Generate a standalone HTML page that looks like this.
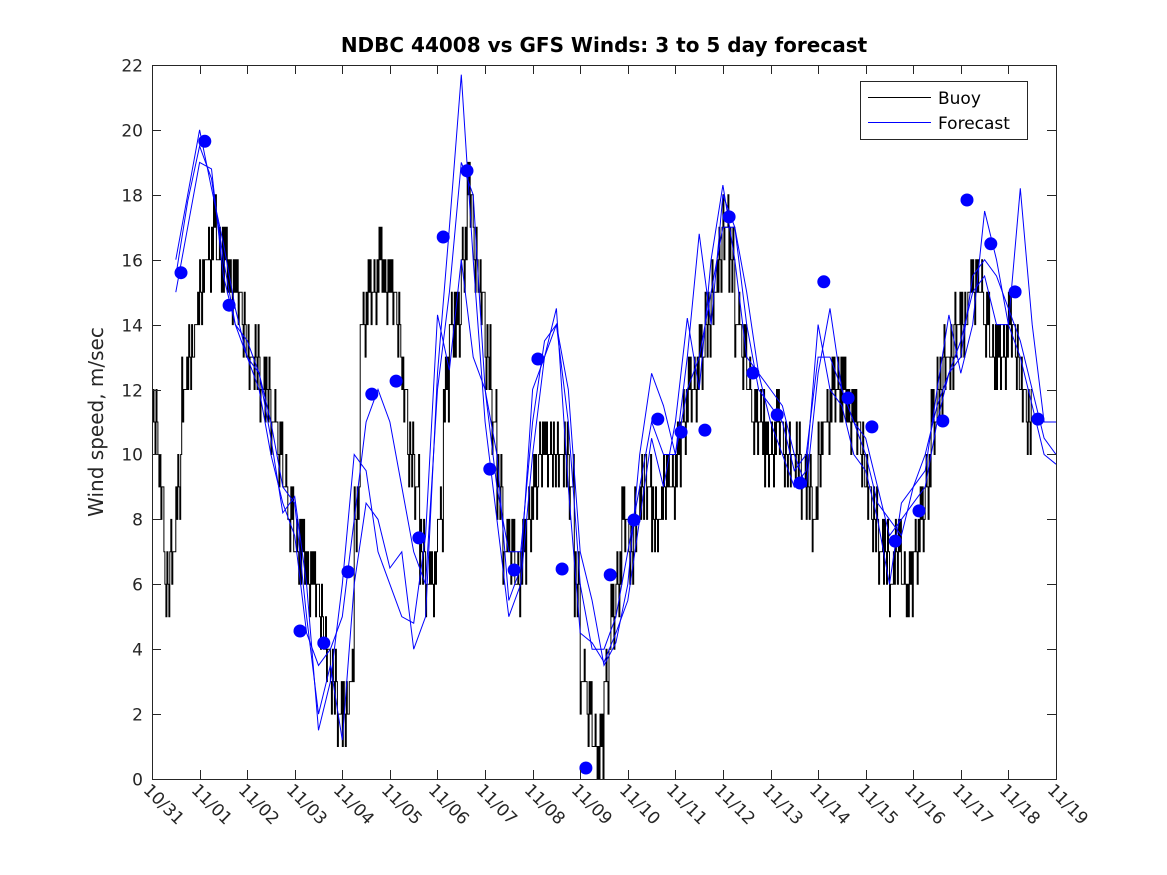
<!DOCTYPE html>
<html><head><meta charset="utf-8"><style>
html,body{margin:0;padding:0;background:#fff;}
svg{display:block;font-family:"DejaVu Sans","Liberation Sans",sans-serif;}
</style></head><body>
<svg id="chart" width="1167" height="875" viewBox="0 0 1167 875" xmlns="http://www.w3.org/2000/svg">
<rect x="0" y="0" width="1167" height="875" fill="#fff"/>
<text x="604" y="52" text-anchor="middle" font-size="20" font-weight="bold" fill="#000">NDBC 44008 vs GFS Winds: 3 to 5 day forecast</text>
<text transform="translate(103,422) rotate(-90)" text-anchor="middle" font-size="20" fill="#262626">Wind speed, m/sec</text>
<g id="plot"></g>
<g id="axes"></g>
<g>
<rect x="860.5" y="81.5" width="167" height="58" fill="#fff" stroke="#262626" stroke-width="1"/>
<line x1="868" y1="97.5" x2="931" y2="97.5" stroke="#000" stroke-width="1"/>
<text x="938" y="104" font-size="17" fill="#000">Buoy</text>
<line x1="868" y1="122.5" x2="931" y2="122.5" stroke="#0000ff" stroke-width="1"/>
<text x="938" y="129" font-size="17" fill="#000">Forecast</text>
</g>
</svg>
<script>
// Data
const dateLabels = ["10/31","11/01","11/02","11/03","11/04","11/05","11/06","11/07","11/08","11/09","11/10","11/11","11/12","11/13","11/14","11/15","11/16","11/17","11/18","11/19"];
const yTicks = [0,2,4,6,8,10,12,14,16,18,20,22];
// buoy: 3-hourly values starting day 0
const buoy = [
11,9,6,7,9,12,13,14,
15,16,17,16,16,15,15,14,
13,13,12,12,11,10,9,8,
7,7,6,6,5,4,3,2,
2,3,8,14,15,15,16,15,
15,14,12,10,9,7,6,6,
8,12,14,14,16,18,16,15,
13,11,9,7,7,6,7,8,
9,10,10,10,10,10,9,6,
3,2,1,1,3,5,6,8,
7,8,9,9,8,8,9,9,
10,11,12,12,13,14,15,16,
17,16,14,13,12,11,11,10,
10,11,10,10,10,9,9,8,
10,11,12,12,12,11,11,10,
9,8,7,7,6,7,6,6,
7,8,9,11,12,13,13,14,
14,15,15,15,14,13,13,13,
14,13,12,11
];
// buoy short-term fluctuation pattern (per sub-sample)
const buoyFlicker = [0,1,0,-1,1,0,-1,1,0,1,-1,0,0];
// forecast tracks: 6-hourly values starting day 0.5
const fcStart = 0.5;
const fc1 = [15.5,17.8,19.5,18.5,16,14,13,12,10,8.5,7.5,4.5,3.5,4,5,8,11,12,11,9,7,6,12,15,19,18,12,9,7,7,11,13.5,14,11,6,4,4,5,7,9,11,10,10,12,13,15,17,17,14,12,11.5,11,9.5,10,13,13,12,11,10.5,9,7.5,8,8.5,9,11,12.5,13,15.5,16,15.5,14.5,13.5,12,10.5,10];
const fc2 = [16,18,20,18.2,16.5,14.5,13,12.5,11,9,8.5,5,2,3.5,1.2,6,8.5,8,6.5,7,4,5,12.5,17,21.7,16,11,8,5,6,10,13,14.5,9,4.5,4.2,3.6,4.5,5.5,8,10.5,9,11,14.2,12,16,18.3,16,13,12.5,11,10,9,9.5,14,12,11.5,10,9.5,8,6,8.5,9,10,11.5,12.5,13.5,15,15.5,14,14,13,11.5,10,9.7];
const fc3 = [15,17,19,18.8,15.5,14,13.5,12.5,10.5,8.2,8.7,6,1.5,3,6,10,9.5,7,6,5,4.8,7.5,14.3,12.6,16,13,12,10,5.5,6.5,12,13,14,12,7,5.5,3.5,4.2,6,10,12.5,11.5,10,13,16.8,14,18,17,15,12.5,12,11.5,10,9,12.5,14.5,12,11,10,8.5,8,7.5,9,9.5,12,14.3,12.5,14,17.5,16,14,18.2,14,11,11];
const dotDays = [0.61,1.11,1.62,3.11,3.61,4.12,4.62,5.13,5.61,6.12,6.62,7.10,7.61,8.11,8.62,9.12,9.63,10.13,10.63,11.12,11.62,12.13,12.63,13.14,13.62,14.12,14.63,15.13,15.62,16.12,16.62,17.13,17.63,18.14,18.62];
const dotValues = [15.6,19.65,14.6,4.56,4.19,6.38,11.86,12.26,7.43,16.7,18.74,9.55,6.44,12.94,6.47,0.34,6.29,7.98,11.09,10.69,10.75,17.32,12.51,11.22,9.12,15.32,11.74,10.85,7.33,8.26,11.03,17.84,16.49,15.01,11.09];

// Axis functions
const X0=152, X1=1056, Y0=779, Y1=65;
const xs = d => X0 + d*(X1-X0)/19;
const ys = v => Y0 - v*(Y0-Y1)/22;
const NS="http://www.w3.org/2000/svg";
const plot=document.getElementById('plot');
const axes=document.getElementById('axes');
function mk(tag,attrs,parent){const e=document.createElementNS(NS,tag);for(const k in attrs)e.setAttribute(k,attrs[k]);parent.appendChild(e);return e;}

const defs=mk('defs',{},plot);
const cp=mk('clipPath',{id:'clip'},defs);
mk('rect',{x:X0,y:Y1,width:X1-X0,height:Y0-Y1},cp);
const g=mk('g',{'clip-path':'url(#clip)'},plot);

// buoy: half-hour sub-samples (6 per 3-hour block)
let d='';
const SUB=6;
let k=0;
for(let i=0;i<buoy.length;i++){
  for(let h=0;h<SUB;h++){
    const t=(i*3+h*3/SUB)/24;
    const v=Math.max(0,buoy[i]+buoyFlicker[(k+i)%buoyFlicker.length]);
    k++;
    const x=xs(t), x2=xs(t+3/SUB/24), y=ys(v);
    d+=(d?'L':'M')+x.toFixed(1)+','+y.toFixed(1)+'L'+x2.toFixed(1)+','+y.toFixed(1);
  }
}
const bl=mk('path',{d:d,fill:'none',stroke:'#000','stroke-width':1},g);



function fcLine(start,arr,name){
  const p=arr.map((v,i)=>(i?'L':'M')+xs(start+i*0.25).toFixed(1)+','+ys(v).toFixed(1)).join('');
  const e=mk('path',{d:p,fill:'none',stroke:'#0000ff','stroke-width':1},g);
  
  
}
fcLine(fcStart,fc1,'forecast-line-1');
fcLine(fcStart,fc2,'forecast-line-2');
fcLine(fcStart,fc3,'forecast-line-3');

dotDays.forEach((dd,i)=>{
  const c=mk('circle',{cx:xs(dd).toFixed(1),cy:ys(dotValues[i]).toFixed(1),r:6.5,fill:'#0000ff'},plot);
  
  
});

const box=mk('rect',{x:X0+0.5,y:Y1+0.5,width:X1-X0,height:Y0-Y1,fill:'none',stroke:'#262626','stroke-width':1},axes);


yTicks.forEach(v=>{
  const y=Math.round(ys(v))+0.5;
  mk('line',{x1:X0,y1:y,x2:X0+9,y2:y,stroke:'#262626'},axes);
  mk('line',{x1:X1-9,y1:y,x2:X1,y2:y,stroke:'#262626'},axes);
  const t=mk('text',{x:X0-9,y:y+6,'text-anchor':'end','font-size':17,fill:'#262626'},axes);
  t.textContent=v;
  
  
});
dateLabels.forEach((lab,i)=>{
  const x=Math.round(xs(i))+0.5;
  mk('line',{x1:x,y1:Y0,x2:x,y2:Y0-9,stroke:'#262626'},axes);
  mk('line',{x1:x,y1:Y1,x2:x,y2:Y1+9,stroke:'#262626'},axes);
  const t=mk('text',{x:0,y:0,'font-size':17,fill:'#262626',transform:`translate(${x-10},${Y0+12}) rotate(45)`},axes);
  t.textContent=lab;
  
  
});
</script>
</body></html>
